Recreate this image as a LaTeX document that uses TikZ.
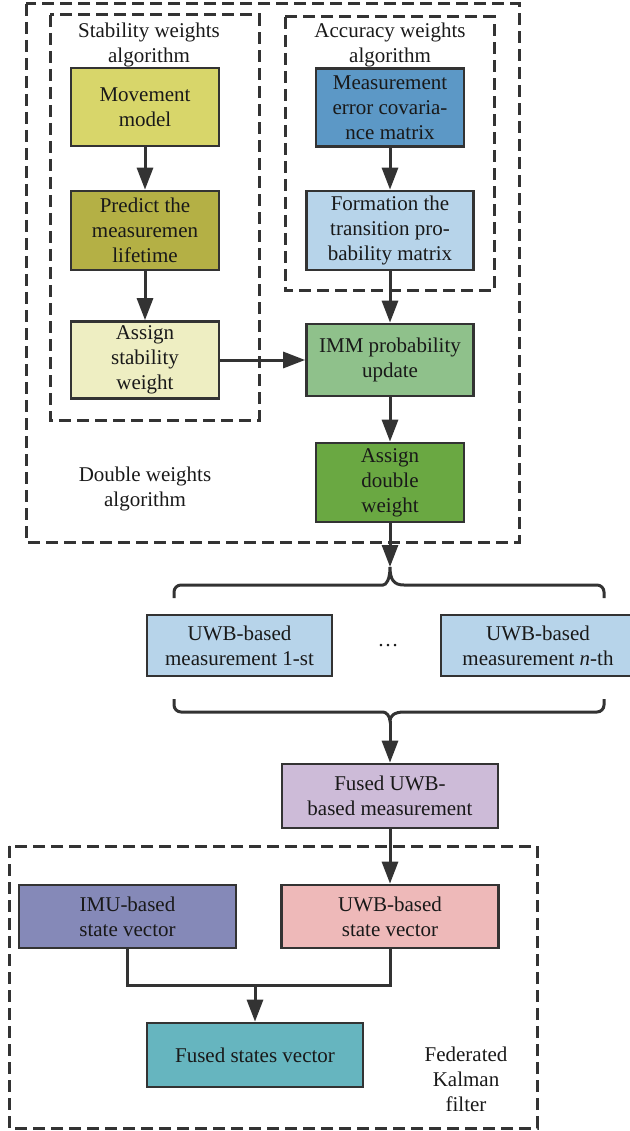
\documentclass[tikz,border=0pt]{standalone}
\usepackage{fontspec}
\setmainfont{Liberation Serif}
\usetikzlibrary{arrows.meta}

\definecolor{linegray}{HTML}{333333}
\definecolor{movecol}{HTML}{D8D66A}
\definecolor{predcol}{HTML}{B4B045}
\definecolor{stabcol}{HTML}{EEEEC2}
\definecolor{meascol}{HTML}{5C98C6}
\definecolor{paleblue}{HTML}{B7D4EA}
\definecolor{immcol}{HTML}{8FC18B}
\definecolor{doublecol}{HTML}{6AA842}
\definecolor{fuseducol}{HTML}{CDBBD8}
\definecolor{imucol}{HTML}{8589B8}
\definecolor{uwbscol}{HTML}{EEB9B9}
\definecolor{fusedscol}{HTML}{66B5BF}

\begin{document}
\begin{tikzpicture}[x=1pt, y=-1pt, >={Triangle[length=22pt,width=16pt]},
	every node/.style={font=\fontsize{21}{25}\selectfont, text=black!90, align=center},
	box/.style 2 args={draw=linegray, line width=2.7pt, inner sep=0pt, minimum width=#1, minimum height=#2},
	arr/.style={->, draw=linegray, line width=3pt},
	link/.style={draw=linegray, line width=3pt},
	frame/.style={draw=linegray, line width=3pt, dash pattern=on 12pt off 6pt}]
	\useasboundingbox (0,0) rectangle (629,1131);
	% group frames
	\draw[frame] (26,4) rectangle (519,542);
	\draw[frame] (50,15) rectangle (259,420);
	\draw[frame] (285,17) rectangle (494,291);
	\draw[frame] (9,846) rectangle (537,1128);
	\node (stablabel) at (149,45) {Stability weights\\algorithm};
	\node (acclabel) at (390,45) {Accuracy weights\\algorithm};
	\node (dwlabel) at (145,489) {Double weights\\algorithm};
	\node (fkflabel) at (466,1079) {Federated\\Kalman\\filter};
	% double weights boxes
	\node[box={148pt}{78pt}, fill=movecol] (move) at (145,107) {Movement\\model};
	\node[box={148pt}{79pt}, fill=predcol] (predict) at (145,230.5) {Predict the\\measuremen\\lifetime};
	\node[box={148pt}{77pt}, fill=stabcol] (assignS) at (145,360) {Assign\\stability\\weight};
	\node[box={148pt}{78pt}, fill=meascol] (meas) at (390,107.5) {Measurement\\error covaria-\\nce matrix};
	\node[box={167pt}{79pt}, fill=paleblue] (form) at (390,230.5) {Formation the\\transition pro-\\bability matrix};
	\node[box={167pt}{72pt}, fill=immcol] (imm) at (390,360) {IMM probability\\update};
	\node[box={148pt}{79pt}, fill=doublecol] (assignD) at (390,482.5) {Assign\\double\\weight};
	% measurements
	\node[box={185pt}{61pt}, fill=paleblue] (uwbA) at (239.5,645.5) {UWB-based\\measurement 1-st};
	\node (dots) at (388,646) {\dots};
	\node[box={194pt}{61pt}, fill=paleblue] (uwbN) at (538,645.5) {UWB-based\\measurement \textit{n}-th};
	\node[box={216pt}{64pt}, fill=fuseducol] (fusedU) at (390,796) {Fused UWB-\\based measurement};
	% federated Kalman filter
	\node[box={217pt}{63pt}, fill=imucol] (imu) at (127.5,916.5) {IMU-based\\state vector};
	\node[box={217pt}{63pt}, fill=uwbscol] (uwbS) at (390,916.5) {UWB-based\\state vector};
	\node[box={216pt}{64pt}, fill=fusedscol] (fusedS) at (255,1055) {Fused states vector};
	\coordinate (topcusp) at (390,567);
	\coordinate (botcusp) at (390,721);
	\coordinate (join) at (255,985);
	% braces
	\draw[link] (174,598) [rounded corners=7pt] |- (376,585) [sharp corners] .. controls (386,585) and (390,580) .. (topcusp) .. controls (390,580) and (394,585) .. (404,585) [rounded corners=7pt] -| (604,598);
	\draw[link] (174,699) [rounded corners=7pt] |- (376,712) [sharp corners] .. controls (386,712) and (390,716) .. (botcusp) .. controls (390,716) and (394,712) .. (404,712) [rounded corners=7pt] -| (604,699);
	% arrows
	\draw[arr] (move) -- (predict);
	\draw[arr] (predict) -- (assignS);
	\draw[arr] (meas) -- (form);
	\draw[arr] (form) -- (imm);
	\draw[arr] (assignS) -- (imm);
	\draw[arr] (imm) -- (assignD);
	\draw[arr] (assignD) -- (topcusp);
	\draw[arr] (botcusp) -- (fusedU);
	\draw[arr] (fusedU) -- (uwbS);
	\draw[link] (imu.south) |- (join) -| (uwbS.south);
	\draw[arr] (join) -- (fusedS);
\end{tikzpicture}
\end{document}
